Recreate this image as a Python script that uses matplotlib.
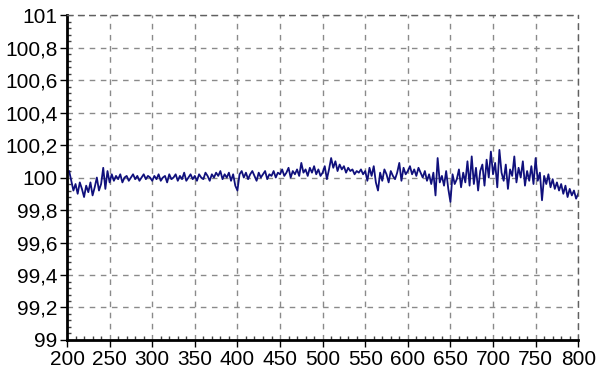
import numpy as np
import matplotlib
matplotlib.use("Agg")
import matplotlib.pyplot as plt
from matplotlib.ticker import MultipleLocator, FuncFormatter

# signal, one value every 2.5 units from 200 to 800
signal = [
    100.03, 100.04, 99.98, 99.92, 99.96, 99.90, 99.97, 99.93, 99.88, 99.95,
    99.91, 99.97, 99.89, 99.94, 100.00, 99.92, 99.96, 100.06, 99.93, 100.04,
    99.97, 100.02, 99.98, 100.01, 99.99, 100.02, 99.97, 100.00, 100.01, 99.98,
    100.00, 100.02, 99.99, 100.01, 99.98, 100.00, 100.02, 99.99, 100.01, 100.00,
    99.98, 100.01, 99.99, 100.02, 99.98, 100.00, 100.01, 99.97, 100.02, 99.99,
    100.00, 100.02, 99.98, 100.01, 99.99, 100.03, 99.98, 100.00, 100.02, 99.99,
    100.01, 99.98, 100.02, 100.00, 99.99, 100.03, 100.01, 99.98, 100.02, 100.00,
    100.03, 100.01, 100.04, 99.99, 100.02, 100.00, 100.03, 99.98, 100.02, 99.95,
    99.92, 100.02, 100.04, 100.00, 100.03, 99.99, 100.02, 100.04, 100.01, 99.98,
    100.03, 100.00, 100.02, 100.04, 99.99, 100.02, 100.01, 100.04, 100.00, 100.03,
    100.02, 100.05, 100.01, 100.03, 100.06, 100.00, 100.04, 100.02, 100.05, 100.01,
    100.09, 100.03, 100.05, 100.01, 100.06, 100.03, 100.07, 100.02, 100.05, 100.01,
    100.03, 100.07, 99.99, 100.05, 100.12, 100.06, 100.10, 100.04, 100.08, 100.05,
    100.07, 100.03, 100.06, 100.04, 100.05, 100.02, 100.04, 100.03, 100.05, 100.02,
    100.04, 99.98, 100.06, 100.01, 100.07, 99.97, 99.92, 100.03, 99.98, 100.05,
    100.02, 99.97, 100.04, 100.01, 99.99, 100.03, 100.09, 99.98, 100.06, 100.02,
    100.04, 100.07, 100.02, 100.05, 100.01, 100.06, 100.03, 100.00, 100.04, 99.98,
    100.02, 99.96, 100.03, 99.89, 100.12, 99.97, 100.01, 99.95, 100.04, 99.93,
    99.85, 100.02, 99.96, 99.99, 100.05, 99.94, 100.03, 99.97, 100.10, 99.95,
    100.13, 99.96, 100.06, 99.92, 100.04, 100.08, 99.95, 100.11, 100.00, 100.16,
    100.02, 100.09, 99.94, 100.17, 100.03, 99.98, 100.08, 99.93, 100.05, 100.01,
    100.13, 99.97, 100.06, 100.00, 100.10, 99.95, 100.04, 99.98, 100.07, 99.96,
    100.12, 99.98, 100.03, 99.86, 100.01, 99.96, 100.02, 99.94, 99.99, 99.93,
    99.97, 99.92, 99.96, 99.90, 99.95, 99.88, 99.93, 99.89, 99.92, 99.87, 99.90,
]
x_start, x_end = 200, 800
y_min, y_max = 99, 101

x = np.linspace(x_start, x_end, len(signal))

plt.rcParams['font.family'] = ['Liberation Sans', 'DejaVu Sans']

fig = plt.figure(figsize=(6, 3.8), dpi=100)
ax = fig.add_axes([0.1117, 0.1053, 0.852, 0.855])

ax.plot(x, signal, color='#10107c', linewidth=1.3)

ax.set_xlim(x_start, x_end)
ax.set_ylim(y_min, y_max)
ax.xaxis.set_major_locator(MultipleLocator(50))
ax.xaxis.set_minor_locator(MultipleLocator(10))
ax.yaxis.set_major_locator(MultipleLocator(0.2))
ax.yaxis.set_minor_locator(MultipleLocator(0.04))
ax.yaxis.set_major_formatter(FuncFormatter(lambda v, p: f'{round(v, 1):g}'.replace('.', ',')))

ax.grid(True, which='major', color='#8a8a8a', linestyle=(0, (4, 4)), linewidth=1)

for side in ('left', 'bottom'):
    ax.spines[side].set_linewidth(2)
    ax.spines[side].set_color('black')
for side in ('top', 'right'):
    ax.spines[side].set_linestyle((0, (4, 4)))
    ax.spines[side].set_color('#606060')
    ax.spines[side].set_linewidth(1)

ax.tick_params(which='major', direction='out', length=5, width=1,
               labelsize=15, pad=2, colors='black')
ax.tick_params(which='minor', direction='in', length=3, width=1, colors='#404040')

fig.savefig('out.png', dpi=100, facecolor='white')
